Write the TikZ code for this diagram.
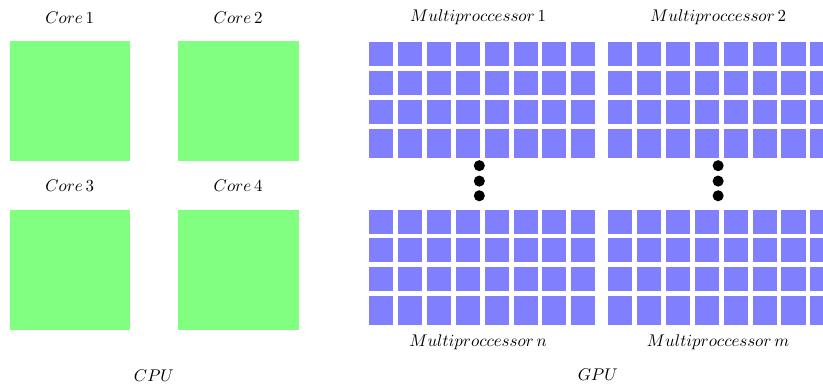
\documentclass[tikz,border=0pt]{standalone}
\begin{document}
\begin{tikzpicture}[x=1cm,y=-1cm,
  core/.style={fill=green!50, draw=none, minimum size=2.5cm, inner sep=0pt, anchor=north west},
  cell/.style={fill=blue!50, draw=none, inner sep=0pt, anchor=north west, minimum width=0.5cm},
  dotc/.style={circle, fill=black, inner sep=0pt, minimum size=0.23cm},
  lab/.style={inner sep=0pt}]
\clip (0,0) rectangle (17.11,8);
% CPU
\node[core] (c1) at (0.2,0.85) {};
\node[core] (c2) at (3.7,0.85) {};
\node[core] (c3) at (0.2,4.35) {};
\node[core] (c4) at (3.7,4.35) {};
\node[lab] (l1) at (1.45,0.37) {$Core\,1$};
\node[lab] (l2) at (4.95,0.37) {$Core\,2$};
\node[lab] (l3) at (1.45,3.87) {$Core\,3$};
\node[lab] (l4) at (4.95,3.87) {$Core\,4$};
\node[lab] (cpu) at (3.2,7.82) {$CPU$};
% GPU blocks
\foreach \bx/\bn in {7.67/a,12.64/b}{
  \foreach \by/\bm in {0.873/t,4.35/u}{
    \foreach \i in {0,...,7}{
      \foreach \j in {0,1,2}{
        \node[cell, minimum height=0.5cm] (g\bn\bm\i\j) at ({\bx+0.6*\i},{\by+0.6*\j}) {};
      }
      \node[cell, minimum height=0.6cm] (g\bn\bm\i3) at ({\bx+0.6*\i},{\by+1.8}) {};
    }
  }
}
% dots
\foreach \x/\n in {9.965/a,14.93/b}{
  \node[dotc] (d\n1) at (\x,3.445) {};
  \node[dotc] (d\n2) at (\x,3.765) {};
  \node[dotc] (d\n3) at (\x,4.07) {};
}
\node[lab] (m1) at (9.94,0.35) {$Multiproccessor\,1$};
\node[lab] (m2) at (14.93,0.35) {$Multiproccessor\,2$};
\node[lab] (mn) at (9.94,7.11) {$Multiproccessor\,n$};
\node[lab] (mm) at (14.93,7.11) {$Multiproccessor\,m$};
\node[lab] (gpu) at (12.43,7.80) {$GPU$};
\end{tikzpicture}
\end{document}
